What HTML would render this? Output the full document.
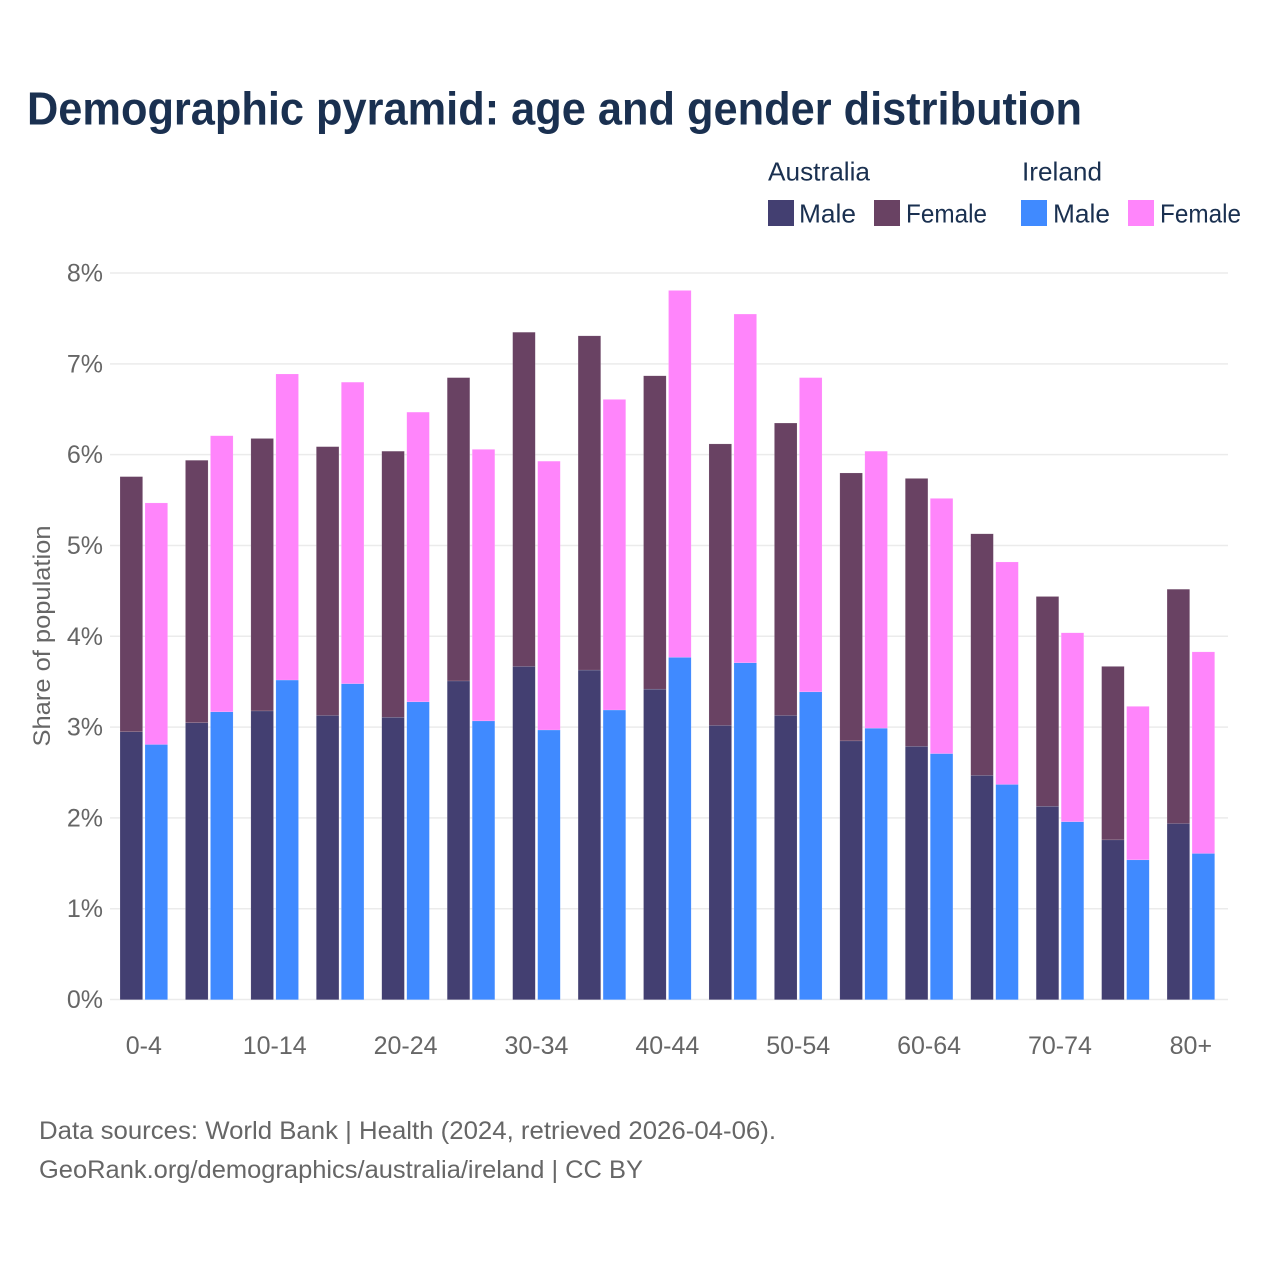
<!DOCTYPE html>
<html lang="en">
<head>
<meta charset="utf-8">
<title>Demographic pyramid: age and gender distribution</title>
<style>
html,body{margin:0;padding:0;background:#fff;width:1280px;height:1280px;overflow:hidden}
svg{display:block;font-family:"Liberation Sans",sans-serif}
</style>
</head>
<body>
<svg id="chart" xmlns="http://www.w3.org/2000/svg" width="1280" height="1280" viewBox="0 0 1280 1280">
  <rect width="1280" height="1280" fill="#fff"/>
  <text x="27" y="124.5" font-size="46" font-weight="700" fill="#1a3050" textLength="1055" lengthAdjust="spacingAndGlyphs">Demographic pyramid: age and gender distribution</text>

  <g font-size="26" fill="#1a3050">
    <text x="768" y="180.5" textLength="102" lengthAdjust="spacingAndGlyphs">Australia</text>
    <text x="1022" y="180.5" textLength="80" lengthAdjust="spacingAndGlyphs">Ireland</text>
    <rect x="768" y="200" width="26" height="26" fill="#433f71"/>
    <text x="799" y="222.5" textLength="57" lengthAdjust="spacingAndGlyphs">Male</text>
    <rect x="874" y="200" width="26" height="26" fill="#694263"/>
    <text x="906" y="222.5" textLength="81" lengthAdjust="spacingAndGlyphs">Female</text>
    <rect x="1021" y="200" width="26" height="26" fill="#408aff"/>
    <text x="1053" y="222.5" textLength="57" lengthAdjust="spacingAndGlyphs">Male</text>
    <rect x="1128" y="200" width="26" height="26" fill="#ff85fb"/>
    <text x="1160" y="222.5" textLength="81" lengthAdjust="spacingAndGlyphs">Female</text>
  </g>

  <g id="grid"></g>
  <g id="yticks"></g>
  <g id="bars"></g>
  <g id="xticks"></g>

  <text transform="translate(50,636) rotate(-90)" text-anchor="middle" font-size="24" fill="#666" textLength="221" lengthAdjust="spacingAndGlyphs">Share of population</text>

  <text x="39" y="1139" font-size="25" fill="#666" textLength="737" lengthAdjust="spacingAndGlyphs">Data sources: World Bank | Health (2024, retrieved 2026-04-06).</text>
  <text x="39" y="1178" font-size="25" fill="#666" textLength="604" lengthAdjust="spacingAndGlyphs">GeoRank.org/demographics/australia/ireland | CC BY</text>
</svg>
<script>
const categories = ["0-4","5-9","10-14","15-19","20-24","25-29","30-34","35-39","40-44","45-49","50-54","55-59","60-64","65-69","70-74","75-79","80+"];
const australiaMale = [2.95,3.05,3.18,3.13,3.11,3.51,3.67,3.63,3.42,3.02,3.13,2.85,2.79,2.47,2.13,1.76,1.94];
const australiaFemale = [2.81,2.89,3.00,2.96,2.93,3.34,3.68,3.68,3.45,3.10,3.22,2.95,2.95,2.66,2.31,1.91,2.58];
const irelandMale = [2.81,3.17,3.52,3.48,3.28,3.07,2.97,3.19,3.77,3.71,3.39,2.99,2.71,2.37,1.96,1.54,1.61];
const irelandFemale = [2.66,3.04,3.37,3.32,3.19,2.99,2.96,3.42,4.04,3.84,3.46,3.05,2.81,2.45,2.08,1.69,2.22];
const yTickValues = [0,1,2,3,4,5,6,7,8];
const xTickEvery = 2;

const NS = "http://www.w3.org/2000/svg";
const PLOT_LEFT = 111.1, BAND = 65.44, Y0 = 999.5, Y8 = 273, YMAX = 8, BAR_W = 22.6, BAR_GAP = 2.4;
function x(i){ return PLOT_LEFT + BAND * (i + 0.5); }
function y(v){ return Y0 - (Y0 - Y8) * v / YMAX; }
function make(tag, attrs, parent){
  const el = document.createElementNS(NS, tag);
  for (const k in attrs) el.setAttribute(k, attrs[k]);
  parent.appendChild(el);
  return el;
}

const gridG = document.getElementById("grid");
const yG = document.getElementById("yticks");
yTickValues.forEach(function(v){
  const line = make("line", {x1:110, x2:1228, y1:y(v), y2:y(v), stroke:"#ebebeb", "stroke-width":1.5}, gridG);
  
  
  const t = make("text", {x:103, y:y(v)+8.5, "text-anchor":"end", "font-size":25, fill:"#666"}, yG);
  
  
  t.textContent = v + "%";
});

const barsG = document.getElementById("bars");
function drawBar(i, offset, base, value, fill, name){
  const top = y(base + value), bottom = y(base);
  const r = make("rect", {x:x(i)+offset, y:top+0.2, width:BAR_W, height:bottom-top, fill:fill, stroke:"#fff", "stroke-opacity":0.3, "stroke-width":0.4}, barsG);
  
  
}
categories.forEach(function(c, i){
  const left = -BAR_W - BAR_GAP/2, right = BAR_GAP/2;
  drawBar(i, left, 0, australiaMale[i], "#433f71", "bar-australia-male");
  drawBar(i, left, australiaMale[i], australiaFemale[i], "#694263", "bar-australia-female");
  drawBar(i, right, 0, irelandMale[i], "#408aff", "bar-ireland-male");
  drawBar(i, right, irelandMale[i], irelandFemale[i], "#ff85fb", "bar-ireland-female");
});

const xG = document.getElementById("xticks");
categories.forEach(function(c, i){
  if (i % xTickEvery !== 0) return;
  const t = make("text", {x:x(i), y:1054, "text-anchor":"middle", "font-size":25, fill:"#666"}, xG);
  
  
  t.textContent = c;
});
</script>
</body>
</html>
